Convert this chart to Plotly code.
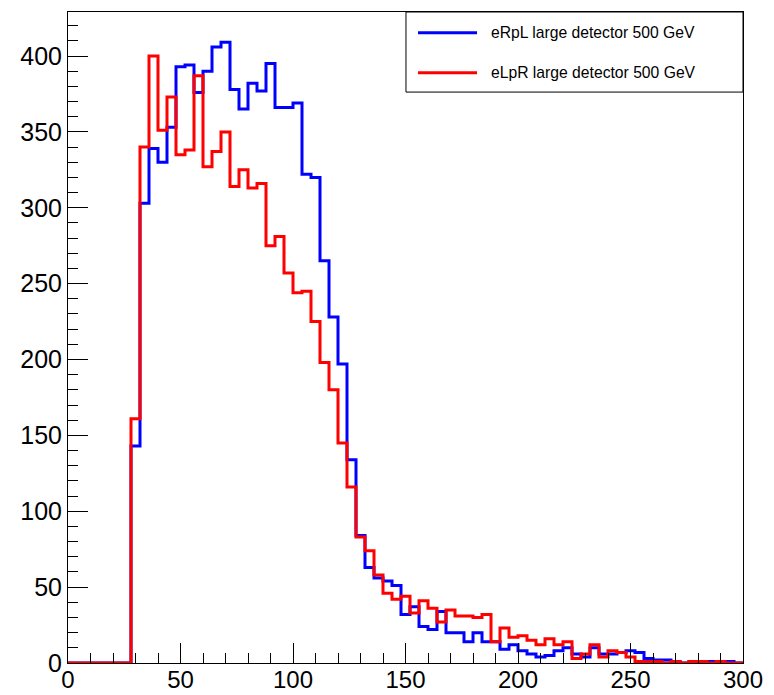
import numpy as np
import plotly.graph_objects as go

# Histogram binning: 75 bins of width 4 from 0 to 300
bin_edges = list(range(0, 304, 4))

erpl_counts = [0, 0, 0, 0, 0, 0, 0, 143, 303, 339,
               330, 353, 393, 394, 376, 390, 406, 409, 378, 365,
               382, 377, 395, 366, 366, 369, 322, 320, 265, 228,
               197, 134, 84, 63, 56, 54, 51, 32, 37, 24,
               22, 34, 20, 20, 14, 20, 14, 14, 9, 12,
               8, 6, 4, 5, 8, 10, 6, 4, 10, 6,
               6, 7, 8, 7, 3, 2, 2, 1, 0, 1,
               1, 1, 1, 1, 0]

elpr_counts = [0, 0, 0, 0, 0, 0, 0, 161, 340, 400,
               351, 373, 335, 338, 387, 327, 337, 350, 314, 325,
               313, 316, 275, 281, 257, 244, 245, 225, 198, 180,
               145, 116, 83, 74, 58, 46, 42, 44, 33, 41,
               36, 27, 35, 31, 31, 30, 32, 14, 23, 17,
               18, 15, 12, 16, 12, 14, 3, 6, 12, 4,
               8, 7, 4, 1, 1, 1, 0, 1, 0, 1,
               1, 0, 1, 0, 0]

series_names = ["eRpL large detector 500 GeV", "eLpR large detector 500 GeV"]
series_colors = ["#0000ff", "#ff0000"]

x_ticks = [0, 50, 100, 150, 200, 250, 300]
y_ticks = [0, 50, 100, 150, 200, 250, 300, 350, 400]

FONT = "Liberation Sans, Arial, Helvetica, sans-serif"

fig = go.Figure()
for counts, name, color in zip([erpl_counts, elpr_counts], series_names, series_colors):
    xs = bin_edges
    ys = counts + [counts[-1]]
    fig.add_trace(go.Scatter(
        x=xs, y=ys, mode="lines", name=name,
        line=dict(color=color, width=3, shape="hv"),
        cliponaxis=False, showlegend=False,
    ))

# Legend (ROOT TLegend style) drawn as box + line samples + text
shapes = [dict(type="rect", xref="paper", yref="paper",
               x0=0.5007, x1=1.0, y0=0.877, y1=1.0,
               line=dict(color="black", width=1), fillcolor="white", layer="above")]
annotations = []
row_y = [0.968, 0.9068]
for name, color, yy in zip(series_names, series_colors, row_y):
    shapes.append(dict(type="line", xref="paper", yref="paper",
                       x0=0.5185, x1=0.606, y0=yy, y1=yy,
                       line=dict(color=color, width=3), layer="above"))
    annotations.append(dict(xref="paper", yref="paper", x=0.6237, y=yy,
                            text=name, showarrow=False, xanchor="left", yanchor="middle",
                            font=dict(family=FONT, size=15.7, color="black")))

fig.update_layout(
    width=774, height=695,
    margin=dict(l=68, r=31, t=12, b=32),
    paper_bgcolor="white", plot_bgcolor="white",
    shapes=shapes, annotations=annotations,
    font=dict(family=FONT, size=25, color="black"),
)
axis_common = dict(
    ticks="inside", ticklen=20, tickwidth=1, tickcolor="black",
    minor=dict(dtick=10, tick0=0, ticks="inside", ticklen=10, tickwidth=1, tickcolor="black"),
    showline=True, linecolor="black", linewidth=1, mirror=True,
    showgrid=False, zeroline=False, automargin=False,
)
fig.update_xaxes(range=[0, 300], tickvals=x_ticks, ticktext=[str(v) for v in x_ticks],
                 tickfont=dict(family=FONT, size=24, color="black"),
                 ticklabelstandoff=-5, **axis_common)
fig.update_yaxes(range=[0, 429], tickvals=y_ticks, ticktext=[str(v) for v in y_ticks],
                 tickfont=dict(family=FONT, size=25, color="black"), **axis_common)

fig.write_html("out.html")
